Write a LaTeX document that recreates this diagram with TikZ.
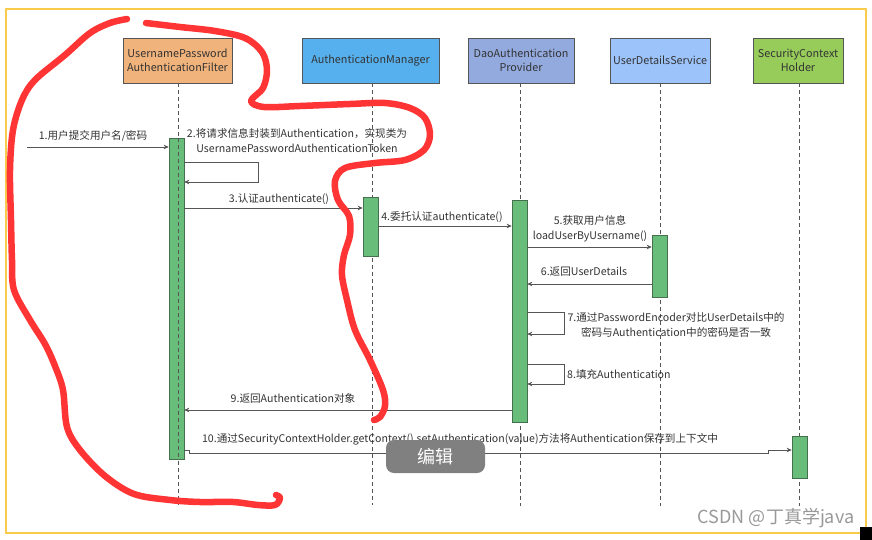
\documentclass[tikz,border=0pt]{standalone}
\usepackage{fontspec}
\setmainfont{Noto Sans CJK SC}
\usetikzlibrary{arrows.meta}
\definecolor{frameY}{HTML}{F9CB4C}
\definecolor{cOrange}{HTML}{F1B37C}
\definecolor{cBlue}{HTML}{56B0EE}
\definecolor{cPurple}{HTML}{93AADF}
\definecolor{cLight}{HTML}{9DC3FB}
\definecolor{cGreen}{HTML}{97CB5A}
\definecolor{actG}{HTML}{67BD79}
\definecolor{actB}{HTML}{466F4E}
\definecolor{lineG}{HTML}{555555}
\definecolor{txt}{HTML}{333333}
\definecolor{scrib}{HTML}{FF3535}
\tikzset{
  hdr/.style={draw=lineG, line width=0.7pt, minimum height=45pt, align=center, text=txt, font=\fontsize{10.8}{14.5}\selectfont, inner sep=1pt},
  act/.style={draw=actB, fill=actG, line width=0.6pt, minimum width=15pt, inner sep=0pt, anchor=north},
  life/.style={draw=lineG, line width=0.7pt, dash pattern=on 4pt off 3pt},
  msg/.style={draw=lineG, line width=0.7pt, -{Stealth[length=5pt,width=4.5pt]}},
  lbl/.style={text=txt, font=\fontsize{10.6}{15}\selectfont, inner sep=0pt, align=center},
  scribble/.style={draw=scrib, line width=6.5pt, line cap=round, line join=round}
}
\begin{document}
\begin{tikzpicture}[x=1pt,y=-1pt]
\useasboundingbox (0,0) rectangle (872,540);
\fill[white] (0,0) rectangle (872,540);
% frame
\draw[frameY, line width=2.5pt] (6,9) rectangle (866,533);
\fill[black] (860,527) rectangle (872,540);

% headers
\node[hdr, fill=cOrange, minimum width=109pt] (h1) at (177.5,60.5) {UsernamePassword\\AuthenticationFilter};
\node[hdr, fill=cBlue, minimum width=137pt] (h2) at (370.5,60.5) {AuthenticationManager};
\node[hdr, fill=cPurple, minimum width=106pt] (h3) at (521,60.5) {DaoAuthentication\\Provider};
\node[hdr, fill=cLight, minimum width=100pt] (h4) at (660,60.5) {UserDetailsService};
\node[hdr, fill=cGreen, minimum width=90pt] (h5) at (798,60.5) {SecurityContext\\Holder};

% lifeline ends
\coordinate (e1) at (178,505);
\coordinate (e2) at (372,505);
\coordinate (e3) at (520,506);
\coordinate (e4) at (660,506);
\coordinate (e5) at (799,506);
\draw[life] (h1.south -| e1) -- (e1);
\draw[life] (h2.south -| e2) -- (e2);
\draw[life] (h3.south -| e3) -- (e3);
\draw[life] (h4.south -| e4) -- (e4);
\draw[life] (h5.south -| e5) -- (e5);

% activation bars
\node[act, minimum height=321pt] (a1) at (176.5,138) {};
\node[act, minimum height=59pt] (a2) at (370.5,197) {};
\node[act, minimum height=222pt] (a3) at (519.5,200) {};
\node[act, minimum height=62pt] (a4) at (659.5,235) {};
\node[act, minimum height=42pt] (a5) at (799.5,436) {};
\draw[life] (178,138) -- (178,459);

% message 1
\coordinate (src) at (27,147);
\draw[msg] (src) -- (a1.west |- src);
\node[lbl] (l1) at (93,136) {1.用户提交用户名/密码};

% message 2 (self)
\coordinate (m2a) at (0,162);
\coordinate (m2b) at (0,182);
\draw[msg] (a1.east |- m2a) -- (258,162) -- (258,182) -- (a1.east |- m2b);
\node[lbl] (l2) at (297,140.5) {2.将请求信息封装到Authentication，实现类为\\UsernamePasswordAuthenticationToken};

% message 3
\coordinate (m3) at (0,208);
\draw[msg] (a1.east |- m3) -- (a2.west |- m3);
\node[lbl] (l3) at (279,199) {3.认证authenticate()};

% message 4
\coordinate (m4) at (0,226);
\draw[msg] (a2.east |- m4) -- (a3.west |- m4);
\node[lbl] (l4) at (442,217) {4.委托认证authenticate()};

% message 5
\coordinate (m5) at (0,247);
\draw[msg] (a3.east |- m5) -- (a4.west |- m5);
\node[lbl] (l5) at (590,228.5) {5.获取用户信息\\loadUserByUsername()};

% message 6
\coordinate (m6) at (0,284);
\draw[msg] (a4.west |- m6) -- (a3.east |- m6);
\node[lbl] (l6) at (584,272) {6.返回UserDetails};

% message 7
\coordinate (m7a) at (0,312);
\coordinate (m7b) at (0,334);
\draw[msg] (a3.east |- m7a) -- (564,312) -- (564,334) -- (a3.east |- m7b);
\node[lbl] (l7) at (676,324.5) {7.通过PasswordEncoder对比UserDetails中的\\密码与Authentication中的密码是否一致};

% message 8
\coordinate (m8a) at (0,364);
\coordinate (m8b) at (0,384);
\draw[msg] (a3.east |- m8a) -- (564,364) -- (564,384) -- (a3.east |- m8b);
\node[lbl, anchor=west] (l8) at (567,374) {8.填充Authentication};

% message 9
\coordinate (m9) at (0,410);
\draw[msg] (a3.west |- m9) -- (a1.east |- m9);
\node[lbl] (l9) at (293,398) {9.返回Authentication对象};

% message 10
\coordinate (m10) at (0,450);
\draw[msg] (a1.east |- m10) -- (189,450) -- (189,453) -- (768,453) -- (768,450) -- (a5.west |- m10);
\node[lbl] (l10) at (460,439) {10.通过SecurityContextHolder.getContext().setAuthentication(value)方法将Authentication保存到上下文中};

% red hand-drawn annotation
\draw[scribble] plot[smooth, tension=0.55] coordinates {
 (127,19) (110,23) (90,33) (65,55) (35,80) (22,100) (13,130) (10,170) (11,220) (12,260) (14,290) (30,320) (45,344) (55,366) (63,390) (67,427) (80,450) (105,476) (134,494) (170,500) (200,502) (233,502) (258,505) (275,505) (280,498) (276,495)};
\draw[scribble] plot[smooth, tension=0.55] coordinates {
 (146,23) (180,27) (215,31) (245,38) (262,52) (267,70) (263,88) (251,101) (264,107) (300,106) (350,104) (385,103) (410,108) (425,118) (430,135) (424,150) (405,160) (375,163) (345,168) (335,181) (338,200) (349,216) (350,235) (344,255) (342,275) (347,300) (355,330) (370,360) (383,390) (385,406) (380,417) (374,420)};

% edit overlay
\node[fill=black!50, rounded corners=8pt, minimum width=99pt, minimum height=33pt, inner sep=0pt, text=white, font=\fontsize{18}{20}\selectfont] (edit) at (435.5,456.5) {编辑};

% watermark
\node[text=black!40, font=\fontsize{18}{19}\selectfont, inner sep=0pt] (wm) at (776,518) {CSDN @丁真学java};
\end{tikzpicture}
\end{document}
